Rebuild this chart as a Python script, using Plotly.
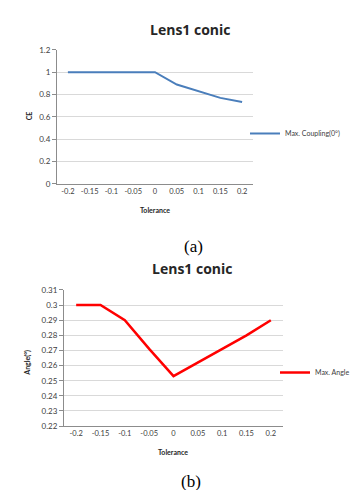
import plotly.graph_objects as go

W, H = 359, 490

tolerance = ["-0.2", "-0.15", "-0.1", "-0.05", "0", "0.05", "0.1", "0.15", "0.2"]
coupling = [1.0, 1.0, 1.0, 1.0, 1.0, 0.89, 0.83, 0.77, 0.733]
angle = [0.30, 0.30, 0.29, 0.271, 0.253, 0.262, 0.271, 0.28, 0.29]

ce_ticks = [0, 0.2, 0.4, 0.6, 0.8, 1, 1.2]
ce_tick_text = ["0", "0.2", "0.4", "0.6", "0.8", "1", "1.2"]
ang_ticks = [0.22, 0.23, 0.24, 0.25, 0.26, 0.27, 0.28, 0.29, 0.30, 0.31]
ang_tick_text = ["0.22", "0.23", "0.24", "0.25", "0.26", "0.27", "0.28", "0.29", "0.3", "0.31"]

FONT = "Lato"
TFONT = "Open Sans"
GRID = "#d9d9d9"
AXIS = "#8c8c8c"
TXT = "#404040"

def px(x):
    return x / W

def py(y):
    return 1 - y / H

fig = go.Figure()
fig.add_trace(go.Scatter(x=tolerance, y=coupling, mode="lines",
                         name="Max. Coupling(0°)", line=dict(color="#4a7ebb", width=2),
                         xaxis="x", yaxis="y", legend="legend"))
fig.add_trace(go.Scatter(x=tolerance, y=angle, mode="lines",
                         name="Max. Angle", line=dict(color="#ff0000", width=2.5),
                         xaxis="x2", yaxis="y2", legend="legend2"))

xcommon = dict(type="category", showgrid=False, showline=True, linecolor=AXIS,
               ticks="", tickangle=0,
               tickfont=dict(family=FONT, size=7.5, color=TXT), range=[-0.5, 8.5],
               fixedrange=True)
ycommon = dict(showgrid=True, gridcolor=GRID, gridwidth=1, showline=True, linecolor=AXIS,
               ticks="outside", ticklen=4, tickcolor=AXIS, zeroline=False,
               tickfont=dict(family=FONT, size=8, color=TXT), fixedrange=True)

fig.update_layout(
    width=W, height=H,
    margin=dict(l=0, r=0, t=0, b=0),
    paper_bgcolor="white", plot_bgcolor="white",
    showlegend=True,
    xaxis=dict(domain=[px(49), px(245)], anchor="y", **xcommon),
    yaxis=dict(domain=[py(174.3), py(37.7)], anchor="x", range=[0, 1.2],
               tickvals=ce_ticks, ticktext=ce_tick_text, **ycommon),
    xaxis2=dict(domain=[px(56), px(275)], anchor="y2", **xcommon),
    yaxis2=dict(domain=[py(421.7), py(282.7)], anchor="x2", range=[0.22, 0.31],
                tickvals=ang_ticks, ticktext=ang_tick_text, **ycommon),
    legend=dict(x=px(237), y=py(123), xanchor="left", yanchor="middle",
                itemwidth=30, font=dict(family=FONT, size=7, color=TXT),
                bgcolor="rgba(0,0,0,0)"),
    legend2=dict(x=px(267), y=py(367), xanchor="left", yanchor="middle",
                 itemwidth=30, font=dict(family=FONT, size=7, color=TXT),
                 bgcolor="rgba(0,0,0,0)"),
)

ann = []
ann.append(dict(text="<b>Lens1 conic</b>", x=px(182), y=py(17), xref="paper", yref="paper",
                showarrow=False, font=dict(family=TFONT, size=14, color="#262626"),
                xanchor="center", yanchor="middle"))
ann.append(dict(text="<b>Lens1 conic</b>", x=px(184.5), y=py(261), xref="paper", yref="paper",
                showarrow=False, font=dict(family=TFONT, size=14, color="#262626"),
                xanchor="center", yanchor="middle"))
ann.append(dict(text="<b>CE</b>", x=px(20.5), y=py(105), xref="paper", yref="paper",
                showarrow=False, textangle=-90, font=dict(family=FONT, size=7, color="#262626"),
                xanchor="center", yanchor="middle"))
ann.append(dict(text="<b>Angle(°)</b>", x=px(20), y=py(357), xref="paper", yref="paper",
                showarrow=False, textangle=-90, font=dict(family=FONT, size=7, color="#262626"),
                xanchor="center", yanchor="middle"))
ann.append(dict(text="<b>Tolerance</b>", x=px(147), y=py(201), xref="paper", yref="paper",
                showarrow=False, font=dict(family=FONT, size=7, color="#262626"),
                xanchor="center", yanchor="middle"))
ann.append(dict(text="<b>Tolerance</b>", x=px(165), y=py(448), xref="paper", yref="paper",
                showarrow=False, font=dict(family=FONT, size=7, color="#262626"),
                xanchor="center", yanchor="middle"))
ann.append(dict(text="(a)", x=px(185), y=py(238), xref="paper", yref="paper",
                showarrow=False, font=dict(family="Liberation Serif", size=17, color="black"),
                xanchor="center", yanchor="middle"))
ann.append(dict(text="(b)", x=px(183), y=py(478), xref="paper", yref="paper",
                showarrow=False, font=dict(family="Liberation Serif", size=17, color="black"),
                xanchor="center", yanchor="middle"))
fig.update_layout(annotations=ann)

fig.write_html("out.html")
